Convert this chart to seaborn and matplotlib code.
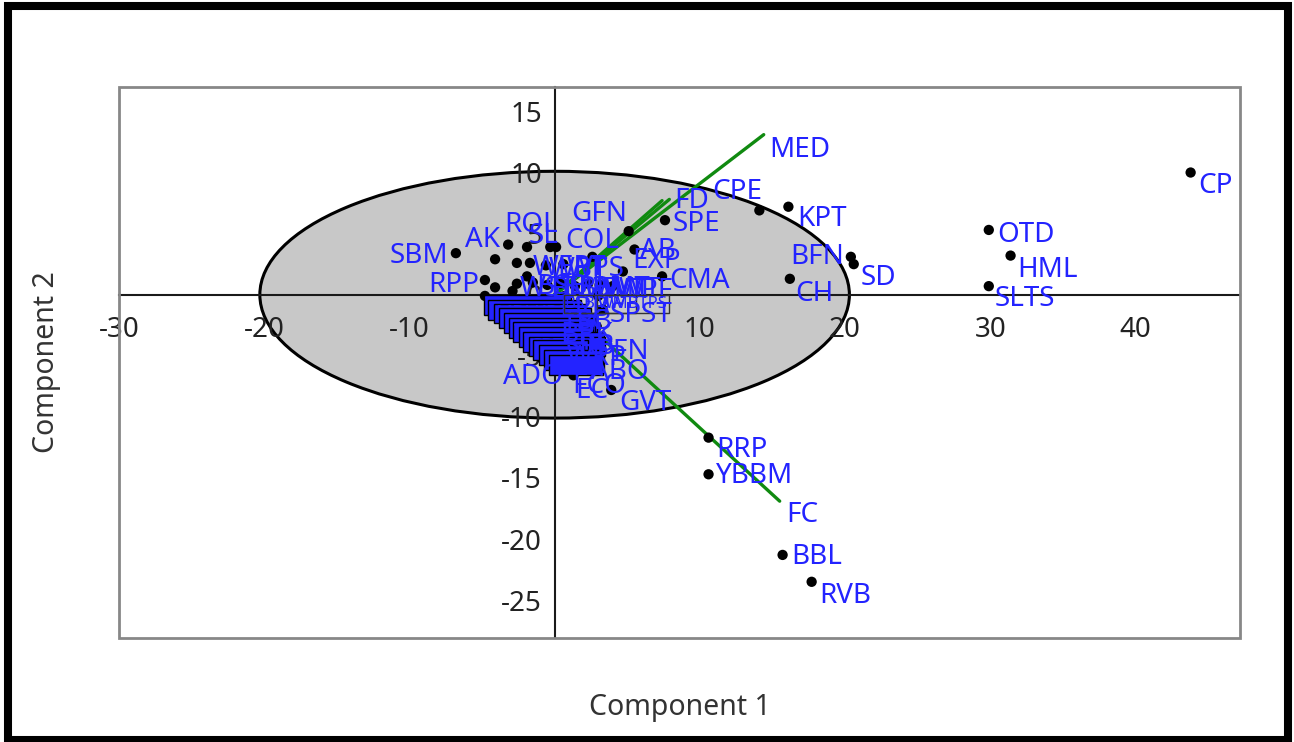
import matplotlib
matplotlib.use("Agg")
import matplotlib.pyplot as plt
from matplotlib.patches import Ellipse, Rectangle
import pandas as pd
import seaborn as sns

names = ["CP", "OTD", "HML", "SLTS", "KPT", "CPE", "SPE", "GFN", "COL", "AB",
         "EXP", "CMA", "BFN", "SD", "CH", "RRP", "YBBM", "BBL", "RVB", "SBM",
         "AK", "ROL", "SL", "RPP", "ADO", "ABO", "EC", "FCO", "GVT", "PFN",
         "SPST", "SC"]
pc1 = [43.8, 29.9, 31.4, 29.9, 16.1, 14.1, 7.6, 5.1, 2.6, 5.5,
       4.7, 7.4, 20.4, 20.6, 16.2, 10.6, 10.6, 15.7, 17.7, -6.8,
       -3.2, -1.9, -0.3, -4.8, -0.9, 1.7, 1.3, 2.9, 3.9, 2.0,
       3.3, 2.9]
pc2 = [10.0, 5.3, 3.2, 0.7, 7.2, 6.9, 6.1, 5.2, 3.1, 3.7,
       1.9, 1.5, 3.1, 2.5, 1.3, -11.7, -14.7, -21.3, -23.5, 3.4,
       4.1, 3.9, 3.9, 1.2, -5.2, -6.1, -6.6, -5.9, -7.8, -4.3,
       -1.2, -2.6]

# crowded scores near the origin (labels overlap)
near_names = ["WEPT", "WBT", "WPS", "WST", "BSB", "BMW", "SBM", "MWT",
              "BMT", "PWT", "WPF", "ERB", "TRB", "BRK", "SRB", "WRP"]
near_pc1 = [-1.7, -0.6, 0.6, -2.6, -1.5, -0.5, 0.4, 1.4,
            2.3, 3.1, 4.0, 0.1, 0.3, 0.2, 0.5, 0.6]
near_pc2 = [2.6, 2.4, 2.5, 0.9, 1.0, 0.8, 0.9, 0.7,
            0.9, 0.8, 0.7, -0.8, -1.8, -2.9, -3.9, -4.8]

# the cascade of boxed labels left of / below the origin
stack_names = ["WPBSRTK", "WBSTRKM", "MBLKPSW", "BSPRWTM", "WRBLMSK",
               "PBLSRKW", "TRBKWS", "SBLMPR", "WSMRBT", "CBTRWS",
               "RBMK", "SLKP", "WRMB", "BWTR"]
stack_pc1 = [-4.8, -4.5, -4.1, -3.8, -3.4, -3.1, -2.8, -2.4,
             -2.1, -1.7, -1.4, -1.0, -0.7, -0.3]
stack_pc2 = [-0.1, -0.5, -0.8, -1.2, -1.6, -2.0, -2.3, -2.7,
             -3.1, -3.5, -3.8, -4.2, -4.6, -5.0]

# boxed labels just right of the origin
row_names = ["BSBMWT", "WMBTPS"]
row_pc1 = [0.7, 3.0]
row_pc2 = [-0.1, -0.1]

# unlabelled dots
dot_pc1 = [-4.1, -2.6, -1.9, -4.1, -2.9, 0.1]
dot_pc2 = [2.9, 2.6, 1.5, 0.6, 0.3, 3.9]

# loading rays
ray_names = ["MED", "FD", "", "FC"]
ray_pc1 = [14.4, 7.9, 7.4, 15.5]
ray_pc2 = [13.1, 7.8, 7.7, -16.9]

# label offsets in pixels (dx, dy) for the readable labels
offsets = {
    "CP": (8, -13), "OTD": (8, -5), "HML": (7, -14), "SLTS": (6, -13),
    "KPT": (9, -12), "CPE": (-47, 18), "SPE": (8, -4), "GFN": (-57, 17),
    "COL": (-27, 16), "AB": (6, -2), "EXP": (9, 10), "CMA": (7, -5),
    "BFN": (-61, 0), "SD": (7, -14), "CH": (5, -15), "RRP": (8, -12),
    "YBBM": (7, -2), "BBL": (9, -2), "RVB": (8, -14), "SBM": (-66, -3),
    "AK": (-43, 5), "ROL": (-23, 22), "SL": (-22, 11), "RPP": (-57, -5),
    "ADO": (-39, -19), "ABO": (12, -3), "EC": (2, -16), "FCO": (-24, -19),
    "GVT": (8, -13), "PFN": (13, -5), "SPST": (7, -6), "SC": (-20, 4),
}
ray_offsets = {"MED": (6, -15), "FD": (5, -2), "FC": (7, -14)}

BLUE = "#2323ff"
GREEN = "#108a10"

sns.set_theme(style="white")
plt.rcParams["font.family"] = ["Noto Sans", "DejaVu Sans"]
plt.rcParams["axes.unicode_minus"] = False

fig = plt.figure(figsize=(12.94, 7.42), dpi=100)
ax = fig.add_axes([119 / 1294, 1 - 638 / 742, 1121 / 1294, 551 / 742])
ax.set_axisbelow(False)

ax.add_patch(Ellipse((0, 0), 40.6, 20.2, facecolor="#c8c8c8",
                     edgecolor="black", lw=2.2, zorder=1))

for x, y in zip(ray_pc1, ray_pc2):
    ax.plot([0, x], [0, y], color=GREEN, lw=2.4, zorder=2.6)

scores = pd.DataFrame({
    "pc1": pc1 + near_pc1 + stack_pc1 + row_pc1 + dot_pc1,
    "pc2": pc2 + near_pc2 + stack_pc2 + row_pc2 + dot_pc2,
})
sns.scatterplot(data=scores, x="pc1", y="pc2", color="black", s=55,
                edgecolor="none", ax=ax, zorder=3)

lab_kw = dict(textcoords="offset pixels", color=BLUE, fontsize=20,
              va="center", ha="left", zorder=4)
# overlapping labels pile up into a solid blue block
for n, x, y in zip(stack_names, stack_pc1, stack_pc2):
    ax.annotate(n, (x, y), xytext=(0, 0), textcoords="offset pixels",
                color=BLUE, fontsize=13.5, va="top", ha="left", zorder=4,
                bbox=dict(boxstyle="square,pad=0.05", fc=BLUE,
                          ec="black", lw=1))
for n, x, y in zip(near_names, near_pc1, near_pc2):
    ax.annotate(n, (x, y), xytext=(3, -5), **lab_kw)
for n, x, y in zip(row_names, row_pc1, row_pc2):
    ax.annotate(n, (x, y), xytext=(0, 0), textcoords="offset pixels",
                color=BLUE, fontsize=12, va="top", ha="left", zorder=4,
                bbox=dict(boxstyle="square,pad=0.05", fc="none",
                          ec="#333333", lw=1))
for n, x, y in zip(names, pc1, pc2):
    ax.annotate(n, (x, y), xytext=offsets[n], **lab_kw)
for n, x, y in zip(ray_names, ray_pc1, ray_pc2):
    if n:
        ax.annotate(n, (x, y), xytext=ray_offsets[n], **lab_kw)

ax.set_xlim(-30, 47.2)
ax.set_ylim(-28.1, 17.0)
ax.set_xticks(range(-30, 41, 10))
ax.set_yticks(range(-25, 16, 5))

for side in ["top", "right"]:
    ax.spines[side].set_visible(False)
for side in ["left", "bottom"]:
    ax.spines[side].set_position("zero")
    ax.spines[side].set_color("#1a1a1a")
    ax.spines[side].set_linewidth(1.5)
ax.tick_params(axis="both", direction="out", length=6, width=1.3,
               color="#444444", labelsize=20, labelcolor="#222222")
ax.tick_params(axis="x", pad=9)
ax.tick_params(axis="y", pad=3)

ax.add_patch(Rectangle((0, 0), 1, 1, transform=ax.transAxes, fill=False,
                       ec="#878787", lw=2, zorder=6, clip_on=False))

ax.set_xlabel("Component 1", fontsize=20.5, color="#333333")
ax.set_ylabel("Component 2", fontsize=20.5, color="#333333")
ax.xaxis.set_label_coords(0.5, -0.10)
ax.yaxis.set_label_coords(-0.052, 0.5)

fig.add_artist(Rectangle((8 / 1294, 2 / 742), 1280 / 1294, 734 / 742,
                         transform=fig.transFigure, fill=False,
                         ec="black", lw=5.8))

fig.savefig("out.png", dpi=100)
